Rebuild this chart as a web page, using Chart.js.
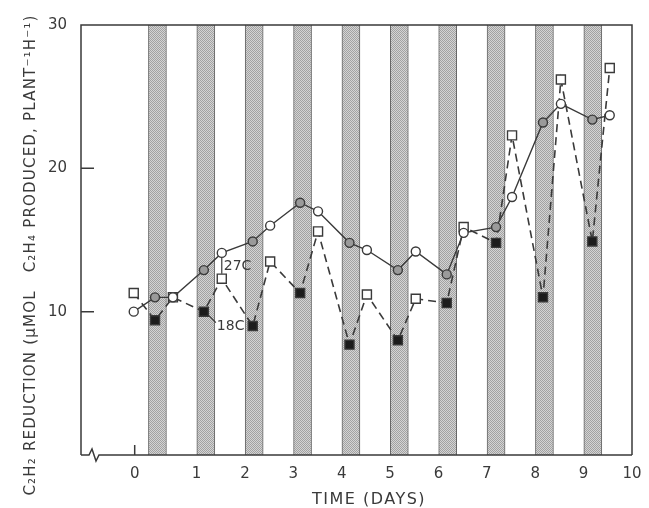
<!DOCTYPE html>
<html>
<head>
<meta charset="utf-8">
<style>
  html, body { margin: 0; padding: 0; background: #fff; }
  #wrap { width: 649px; height: 508px; }
</style>
<script src="https://cdn.jsdelivr.net/npm/chart.js@4/dist/chart.umd.min.js"></script>
</head>
<body>
<div id="wrap"><canvas id="reductionChart"></canvas></div>
<script>
// sampling times (days); two samples a day, one in the dark, one in the light
const sampleDays = [-0.30, 0.14, 0.51, 1.15, 1.52, 2.16, 2.52, 3.14, 3.51, 4.16, 4.52,
                    5.16, 5.53, 6.17, 6.52, 7.19, 7.52, 8.16, 8.53, 9.18, 9.54];
// C2H2 reduction, umol C2H4 per plant per hour
const warm27 = [10.0, 11.0, 11.0, 12.9, 14.1, 14.9, 16.0, 17.6, 17.0, 14.8, 14.3,
                12.9, 14.2, 12.6, 15.5, 15.9, 18.0, 23.2, 24.5, 23.4, 23.7];
const cool18 = [11.3, 9.4, 11.0, 10.0, 12.3, 9.0, 13.5, 11.3, 15.6, 7.7, 11.2,
                8.0, 10.9, 10.6, 15.9, 14.8, 22.3, 11.0, 26.2, 14.9, 27.0];
// dark periods
const darkStart = [0, 1, 2, 3, 4, 5, 6, 7, 8, 9];
const darkLength = 0.38;
// axis ticks
const tickDays = [-0.28, 1, 2, 3, 4, 5, 6, 7, 8, 9, 10];
const tickLabels = ['0', '1', '2', '3', '4', '5', '6', '7', '8', '9', '10'];
const yTickValues = [10, 20, 30];

const ink = '#3a3a3a';
const font = 'DejaVu Sans';

const inDark = d => darkStart.some(s => d >= s && d <= s + darkLength);

const canvas = document.getElementById('reductionChart');

// halftone fill for the dark bands
function stipple() {
  const c = document.createElement('canvas');
  c.width = 2; c.height = 2;
  const g = c.getContext('2d');
  g.fillStyle = '#d4d4d4';
  g.fillRect(0, 0, 2, 2);
  g.fillStyle = '#a2a2a2';
  g.fillRect(0, 0, 1, 1);
  g.fillRect(1, 1, 1, 1);
  return canvas.getContext('2d').createPattern(c, 'repeat');
}

// frame, axis break, inward ticks, titles and curve labels
const framePlugin = {
  id: 'frame',
  afterDatasetsDraw(chart) {
    const { ctx, chartArea: a, scales: { x, y } } = chart;
    ctx.save();
    ctx.strokeStyle = ink;
    ctx.lineWidth = 1.5;
    ctx.beginPath();
    ctx.moveTo(a.left, a.bottom);
    ctx.lineTo(a.left, a.top);
    ctx.lineTo(a.right, a.top);
    ctx.lineTo(a.right, a.bottom);
    ctx.moveTo(a.left, a.bottom);
    ctx.lineTo(a.left + 8, a.bottom);
    ctx.lineTo(a.left + 11, a.bottom - 6);
    ctx.lineTo(a.left + 15, a.bottom + 6);
    ctx.lineTo(a.left + 18, a.bottom);
    ctx.lineTo(a.right, a.bottom);
    yTickValues.forEach(v => {
      const py = y.getPixelForValue(v);
      ctx.moveTo(a.left, py);
      ctx.lineTo(a.left + 13, py);
    });
    const px0 = x.getPixelForValue(tickDays[0]);
    ctx.moveTo(px0, a.bottom);
    ctx.lineTo(px0, a.bottom - 10);
    ctx.stroke();

    // curve labels
    ctx.lineWidth = 1.2;
    ctx.fillStyle = ink;
    ctx.font = '14px "' + font + '"';
    ctx.textBaseline = 'middle';
    ctx.textAlign = 'left';
    const wx = x.getPixelForValue(sampleDays[4]);
    const wTop = y.getPixelForValue(warm27[4]) + 5;
    const wBot = y.getPixelForValue(cool18[4]) - 5;
    ctx.beginPath();
    ctx.moveTo(wx, wTop);
    ctx.lineTo(wx, wBot);
    ctx.stroke();
    ctx.fillText('27C', wx + 2, (wTop + wBot) / 2 + 1);

    const cx = x.getPixelForValue(sampleDays[3]);
    const cy = y.getPixelForValue(cool18[3]);
    ctx.beginPath();
    ctx.moveTo(cx + 5, cy + 4);
    ctx.lineTo(cx + 12, cy + 11);
    ctx.stroke();
    ctx.fillText('18C', cx + 13, cy + 15);
    ctx.restore();
  },
  afterDraw(chart) {
    const { ctx } = chart;
    ctx.save();
    ctx.fillStyle = ink;
    ctx.textAlign = 'center';
    ctx.textBaseline = 'middle';
    ctx.font = '16px "' + font + '"';
    ctx.letterSpacing = '1.5px';
    ctx.fillText('TIME (DAYS)', 369, 500);

    ctx.translate(31, 255);
    ctx.rotate(-Math.PI / 2);
    ctx.font = '15px "' + font + '"';
    ctx.letterSpacing = '1.2px';
    ctx.fillText('C\u2082H\u2082 REDUCTION (\u03bcMOL   C\u2082H\u2084 PRODUCED, PLANT\u207b\u00b9H\u207b\u00b9)', 0, 0);
    ctx.restore();
  }
};

new Chart(canvas, {
  type: 'line',
  data: {
    datasets: [
      {
        type: 'bar',
        data: darkStart.map(s => ({ x: s + darkLength / 2, y: [0, 30] })),
        backgroundColor: stipple(),
        borderColor: '#666',
        borderWidth: { left: 1, right: 1, top: 0, bottom: 0 },
        borderSkipped: false,
        barThickness: 18,
        order: 3
      },
      {
        label: '27C',
        data: sampleDays.map((d, i) => ({ x: d, y: warm27[i] })),
        borderColor: ink,
        borderWidth: 1.4,
        pointStyle: 'circle',
        pointRadius: 4.5,
        pointBorderWidth: 1.4,
        pointBorderColor: ink,
        pointBackgroundColor: sampleDays.map(d => inDark(d) ? '#9a9a9a' : '#fff'),
        order: 1
      },
      {
        label: '18C',
        data: sampleDays.map((d, i) => ({ x: d, y: cool18[i] })),
        borderColor: ink,
        borderWidth: 1.6,
        borderDash: [8, 5],
        pointStyle: 'rect',
        pointRadius: 6.4,
        pointBorderWidth: 1.4,
        pointBorderColor: ink,
        pointBackgroundColor: sampleDays.map(d => inDark(d) ? '#1c1c1c' : '#fff'),
        order: 2
      }
    ]
  },
  options: {
    responsive: true,
    maintainAspectRatio: false,
    animation: false,
    layout: { padding: { top: 25, right: 17, left: 0, bottom: 0 } },
    plugins: {
      legend: { display: false },
      tooltip: { enabled: false }
    },
    scales: {
      x: {
        type: 'linear',
        min: -1.39,
        max: 10,
        offset: false,
        grid: { display: false },
        border: { display: false },
        afterBuildTicks: scale => {
          scale.ticks = tickDays.map(v => ({ value: v }));
        },
        afterFit: scale => { scale.height = 53; },
        ticks: {
          autoSkip: false,
          maxRotation: 0,
          padding: 2,
          color: ink,
          font: { family: font, size: 15 },
          callback: (value, index) => tickLabels[index]
        }
      },
      y: {
        min: 0,
        max: 30,
        grid: { display: false },
        border: { display: false },
        afterBuildTicks: scale => {
          scale.ticks = yTickValues.map(v => ({ value: v }));
        },
        afterFit: scale => { scale.width = 81; },
        ticks: {
          padding: 6,
          color: ink,
          font: { family: font, size: 15 }
        }
      }
    }
  },
  plugins: [framePlugin]
});
</script>
</body>
</html>
